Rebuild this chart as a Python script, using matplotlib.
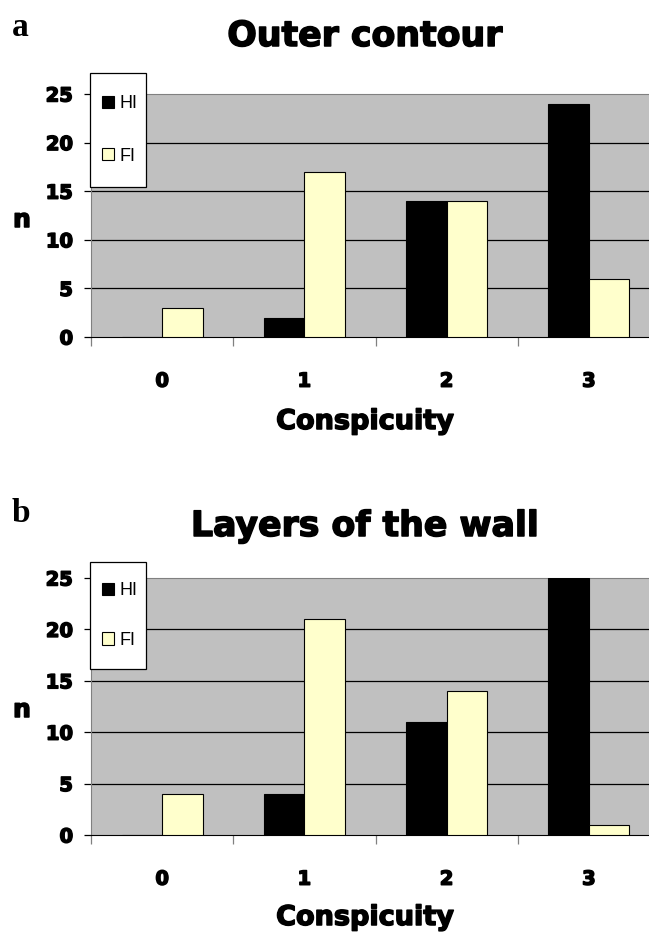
import numpy as np
import matplotlib
matplotlib.use('Agg')
import matplotlib.pyplot as plt
import matplotlib.patheffects as pe
from matplotlib.patches import Rectangle

# ================== data ==================
categories = ['0', '1', '2', '3']
series = ['HI', 'FI']
outer_HI = [0, 2, 14, 24]
outer_FI = [3, 17, 14, 6]
layers_HI = [0, 4, 11, 25]
layers_FI = [4, 21, 14, 1]
yticks = [0, 5, 10, 15, 20, 25]

W, H = 649, 935
HEAVY = 'DejaVu Sans'
# thicken the bold glyphs a little (Arial Black look)
fat = [pe.withStroke(linewidth=1.1, foreground='black')]
bar_w = 0.285
fi_color = '#FFFFCC'
bg_gray = '#C0C0C0'

fig = plt.figure(figsize=(W / 100, H / 100), dpi=100)


def px(x, y):
    # pixel (from top-left) -> figure fraction
    return x / W, 1 - y / H


def heavy(t, size):
    t.set_fontsize(size)
    t.set_fontweight('bold')
    t.set_family(HEAVY)
    t.set_path_effects(fat)


def panel(rect_px, hi, fi, title, title_y, letter, letter_y, legend_px, n_y, xlabel_y):
    x0, top, x1, zero = rect_px
    ax = fig.add_axes([x0 / W, 1 - zero / H, (x1 - x0) / W, (zero - top) / H])
    ax.set_facecolor(bg_gray)
    xs = np.arange(len(categories))
    ax.bar(xs - bar_w / 2, hi, bar_w, color='black', edgecolor='black', lw=0.8, zorder=3, label=series[0])
    ax.bar(xs + bar_w / 2, fi, bar_w, color=fi_color, edgecolor='black', lw=0.8, zorder=3, label=series[1])
    ax.set_xlim(-0.5, 3.5)
    ax.set_ylim(0, 25)
    ax.set_yticks(yticks)
    ax.set_axisbelow(True)
    for v in yticks[1:-1]:
        ax.axhline(v, color='black', lw=0.9, zorder=1)

    ax.set_xticks(xs)
    ax.set_xticklabels(categories)
    ax.tick_params(axis='x', which='major', length=0, pad=25)
    ax.set_xticks(np.arange(-0.5, 3.0, 1.0), minor=True)
    ax.tick_params(axis='x', which='minor', length=6.5, width=0.9, color='#808080', direction='out')
    ax.tick_params(axis='y', length=5, width=0.9, direction='out', pad=8)
    for lab in ax.get_yticklabels() + ax.get_xticklabels():
        heavy(lab, 14)

    ax.spines['right'].set_visible(False)
    ax.spines['top'].set_color('#808080')
    ax.spines['left'].set_color('#808080')
    ax.spines['bottom'].set_color('black')

    ax.set_ylabel('n', rotation=0, va='center', ha='center')
    heavy(ax.yaxis.label, 18)
    ax.yaxis.set_label_coords((22 - x0) / (x1 - x0), (zero - n_y) / (zero - top))
    ax.set_xlabel('Conspicuity', va='center')
    heavy(ax.xaxis.label, 19.5)
    ax.xaxis.set_label_coords((365 - x0) / (x1 - x0), -(xlabel_y - zero) / (zero - top))

    t = fig.text(*px(365, title_y), title, ha='center', va='center')
    heavy(t, 25)
    fig.text(*px(12, letter_y), letter, fontsize=24, fontweight='bold', family='Liberation Serif', ha='left', va='center')

    # legend box
    lx0, ly0, lx1, ly1, spacing = legend_px
    box = Rectangle(px(lx0, ly1), (lx1 - lx0) / W, (ly1 - ly0) / H, transform=fig.transFigure,
                    facecolor='white', edgecolor='black', lw=0.9, zorder=10, clip_on=False)
    ax.add_patch(box)
    leg = ax.legend(loc='center left', bbox_to_anchor=px(lx0 + 12, (ly0 + ly1) / 2),
                    bbox_transform=fig.transFigure, frameon=False,
                    prop={'family': 'Liberation Sans', 'size': 13},
                    handlelength=0.68, handleheight=0.68, handletextpad=0.3,
                    labelspacing=spacing, borderpad=0, borderaxespad=0)
    leg.set_zorder(11)
    return ax


panel((91, 94, 660, 337), outer_HI, outer_FI, 'Outer contour', 36, 'a', 27,
      (90, 73, 146, 187, 1.95), 220, 422)
panel((91, 578, 660, 835), layers_HI, layers_FI, 'Layers of the wall', 526, 'b', 514,
      (90, 562, 146, 669, 1.8), 710, 918)

plt.savefig('out.png', dpi=100)
